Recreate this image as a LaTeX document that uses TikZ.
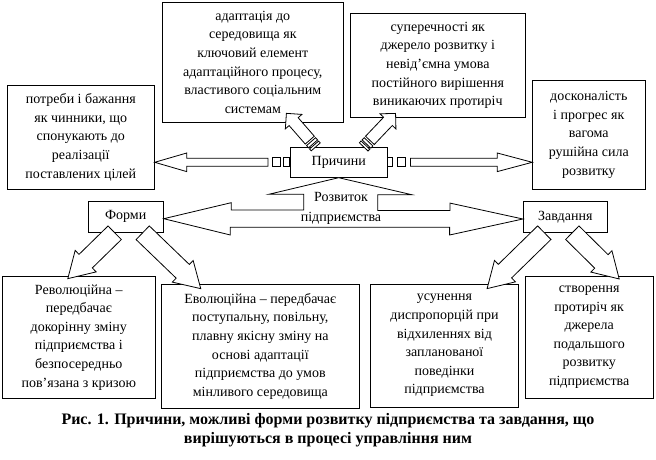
\documentclass[tikz,border=0pt]{standalone}
\usepackage{fontspec}
\setmainfont{Liberation Serif}
\usepackage{tikz}
\usetikzlibrary{calc}
\usetikzlibrary{positioning}

\newcommand{\bigarrow}[5]{%
	\coordinate (hb) at ($(#2)!#5!(#1)$);
	\draw[blockarrow] ($(#1)!#3!90:(#2)$) -- ($(hb)!#3!-90:(#1)$) -- ($(hb)!#4!-90:(#1)$) -- (#2) -- ($(hb)!#4!90:(#1)$) -- ($(hb)!#3!90:(#1)$) -- ($(#1)!#3!-90:(#2)$) -- cycle;
}
\newcommand{\arrowstripe}[5]{%
	\coordinate (sa) at ($(#1)!#3!(#2)$);
	\coordinate (sb) at ($(#1)!#4!(#2)$);
	\draw[blockarrow] ($(sa)!#5!90:(#2)$) -- ($(sb)!#5!90:(#2)$) -- ($(sb)!#5!-90:(#2)$) -- ($(sa)!#5!-90:(#2)$) -- cycle;
}

\begin{document}
\begin{tikzpicture}[x=1pt,y=-1pt,line width=0.8pt,
	box/.style={draw, fill=white, inner sep=0pt, align=center, font=\fontsize{14}{18.6}\selectfont},
	blockarrow/.style={draw, fill=white, line join=miter}]

				\useasboundingbox (0,0) rectangle (656,460);

				\node[box, minimum width=147pt, minimum height=104.3pt] (potreby) at (80.8,137.2) {потреби і бажання\\як чинники, що\\спонукають до\\реалізації\\поставлених цілей};
				\node[box, minimum width=181pt, minimum height=119.3pt] (adapt) at (252.8,62.3) {адаптація до\\середовища як\\ключовий елемент\\адаптаційного процесу,\\властивого соціальним\\системам};
				\node[box, minimum width=174.3pt, minimum height=104pt] (super) at (437.8,65.3) {суперечності як\\джерело розвитку і\\невід’ємна умова\\постійного вирішення\\виникаючих протиріч};
				\node[box, minimum width=112.3pt, minimum height=109.3pt] (dosk) at (588.8,134.7) {досконалість\\і прогрес як\\вагома\\рушійна сила\\розвитку};
				\node[box, minimum width=97.3pt, minimum height=30pt] (prych) at (338.7,162.3) {Причини};

				\node[box, minimum width=75.3pt, minimum height=31.3pt] (formy) at (125.7,216.7) {Форми};
				\node[box, minimum width=84pt, minimum height=30.6pt] (zavd) at (565.3,217) {Завдання};

				\node[box, minimum width=152.3pt, minimum height=122.3pt] (revol) at (78.8,337.2) {Революційна –\\передбачає\\докорінну зміну\\підприємства і\\безпосередньо\\пов’язана з кризою};
				\node[box, minimum width=197.3pt, minimum height=123.7pt] (evol) at (260.3,346.2) {Еволюційна – передбачає\\поступальну, повільну,\\плавну якісну зміну на\\основі адаптації\\підприємства до умов\\мінливого середовища};
				\node[box, minimum width=147.6pt, minimum height=123pt] (usun) at (444.5,345.5) {усунення\\диспропорцій при\\відхиленнях від\\запланованої\\поведінки\\підприємства};
				\node[box, minimum width=128.3pt, minimum height=122.3pt] (stvor) at (589.2,337.2) {створення\\протиріч як\\джерела\\подальшого\\розвитку\\підприємства};

				\coordinate (lt) at ($(prych.west)+(-21.7,0)$);
				\coordinate (lh) at (potreby.east |- prych.west);
				\bigarrow{lt}{lh}{4pt}{9.3pt}{32pt}
				\arrowstripe{prych.west}{lh}{0pt}{6pt}{4.5pt}
				\arrowstripe{prych.west}{lh}{9.3pt}{17.3pt}{4.5pt}

				\coordinate (rt) at ($(prych.east)+(22.7,0)$);
				\coordinate (rh) at (dosk.west |- prych.east);
				\bigarrow{rt}{rh}{4pt}{9.3pt}{35pt}
				\arrowstripe{prych.east}{rh}{0pt}{5pt}{4.5pt}
				\arrowstripe{prych.east}{rh}{9.4pt}{17.7pt}{4.5pt}

				\coordinate (ult) at ($(prych.north)+(-23,0)$);
				\coordinate (ulh) at ($(adapt.south east)+(-57.3,-9)$);
				\coordinate (uls) at ($(ult)!9pt!(ulh)$);
				\bigarrow{uls}{ulh}{6pt}{11pt}{11pt}
				\arrowstripe{ult}{ulh}{0pt}{2.5pt}{6pt}
				\arrowstripe{ult}{ulh}{4pt}{7pt}{6pt}

				\coordinate (urt) at ($(prych.north)+(25,0)$);
				\coordinate (urh) at ($(super.south west)+(45.3,-4.3)$);
				\coordinate (urs) at ($(urt)!9pt!(urh)$);
				\bigarrow{urs}{urh}{6pt}{11pt}{11pt}
				\arrowstripe{urt}{urh}{0pt}{2.5pt}{6pt}
				\arrowstripe{urt}{urh}{4pt}{7pt}{6pt}

				\coordinate (f1t) at ($(formy.south)+(-11,0)$);
				\coordinate (f1h) at ($(revol.north)+(-11,3)$);
				\bigarrow{f1t}{f1h}{9.5pt}{15pt}{25pt}
				\coordinate (f2t) at ($(formy.south)+(17,0)$);
				\coordinate (f2h) at ($(evol.north west)+(39.5,4.7)$);
				\bigarrow{f2t}{f2h}{9.5pt}{15pt}{25pt}

				\coordinate (z1t) at ($(zavd.south)+(-21,0)$);
				\coordinate (z1h) at ($(usun.north east)+(-31.6,5)$);
				\bigarrow{z1t}{z1h}{9.5pt}{15pt}{25pt}
				\coordinate (z2t) at ($(zavd.south)+(7,0)$);
				\coordinate (z2h) at ($(stvor.north)+(30,3.3)$);
				\bigarrow{z2t}{z2h}{9.5pt}{15pt}{25pt}

				\draw[blockarrow] ($(formy.east)+(0,2)$) -- ++(67.4,-16) -- ++(0,7.3) -- ++(72.6,0) -- ++(0,-15.7) -- ++(-35,0) -- (prych.south) -- ++(73,17) -- ++(-34,0) -- ++(0,15.7) -- ++(72.3,0) -- ++(0,-7.3) -- ($(zavd.west)+(0,2)$) -- ++(-73.3,16) -- ++(0,-7.7) -- ++(-219.3,0) -- ++(0,7.7) -- cycle;
				\node[align=center, inner sep=0pt, font=\fontsize{14}{20}\selectfont] (rozv) at (341,208) {Розвиток\\підприємства};

				\node[align=center, inner sep=0pt, font=\fontsize{16}{19}\selectfont\bfseries] (caption) at (328,430.5) {Рис. 1. Причини, можливі форми розвитку підприємства та завдання, що\\вирішуються в процесі управління ним};

\end{tikzpicture}
\end{document}
